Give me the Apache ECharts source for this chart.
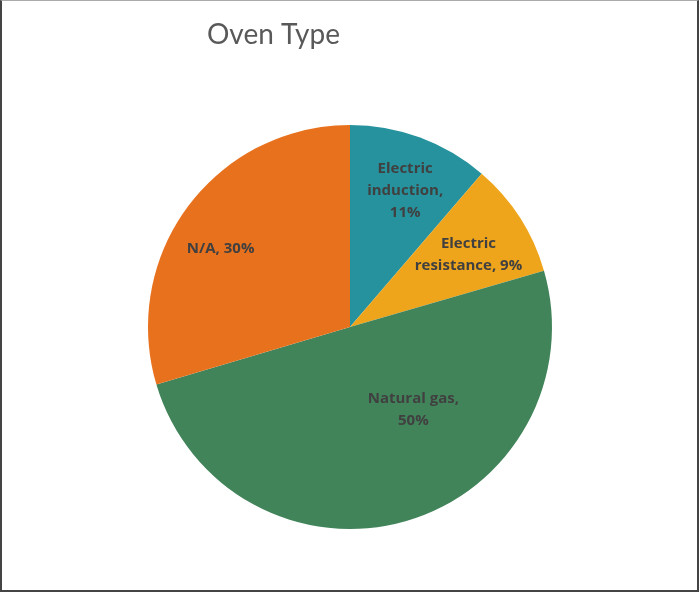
<!DOCTYPE html>
<html><head><meta charset="utf-8">
<script src="https://cdn.jsdelivr.net/npm/echarts@6/dist/echarts.min.js"></script>
<style>
html,body{margin:0;padding:0;background:#fff;overflow:hidden;}
#c{position:absolute;left:0;top:0;width:699px;height:592px;box-sizing:border-box;border-left:2px solid #444;border-right:2px solid #444;border-bottom:2px solid #444;border-top:1px solid #aaa;}
</style></head>
<body><div id="c"></div>
<script>
const categories = ['Electric induction', 'Electric resistance', 'Natural gas', 'N/A'];
const values = [11.3, 9.2, 49.9, 29.6];
const labelTexts = ['Electric\ninduction,\n', 'Electric\nresistance, ', 'Natural gas,\n', 'N/A, '];
const colors = ['#26929E', '#EFA51B', '#42845A', '#E8711E'];
const labelShift = [[19, -39], [31, -16], [34, -17], [-46, -16]];

const total = values.reduce((a, b) => a + b, 0);
const chart = echarts.init(document.getElementById('c'), null, {renderer: 'canvas'});
chart.setOption({
  animation: false,
  title: {
    text: 'Oven Type', left: 200, top: 15,
    textStyle: {fontFamily: 'Lato', fontSize: 28, fontWeight: 'normal', color: '#595959'}
  },
  series: [{
    type: 'pie',
    center: [348, 326],
    radius: 202,
    startAngle: 90,
    clockwise: true,
    avoidLabelOverlap: false,
    itemStyle: {borderWidth: 0},
    label: {
      show: true, position: 'inside',
      fontFamily: 'Open Sans', fontWeight: 'bold', fontSize: 15, color: '#404040',
      lineHeight: 22, align: 'center',
      formatter: p => labelTexts[p.dataIndex] + Math.round(p.value / total * 100) + '%'
    },
    labelLayout: p => ({dx: labelShift[p.dataIndex][0], dy: labelShift[p.dataIndex][1]}),
    labelLine: {show: false},
    emphasis: {disabled: true},
    data: categories.map((n, i) => ({name: n, value: values[i], itemStyle: {color: colors[i]}}))
  }]
});
</script></body></html>
